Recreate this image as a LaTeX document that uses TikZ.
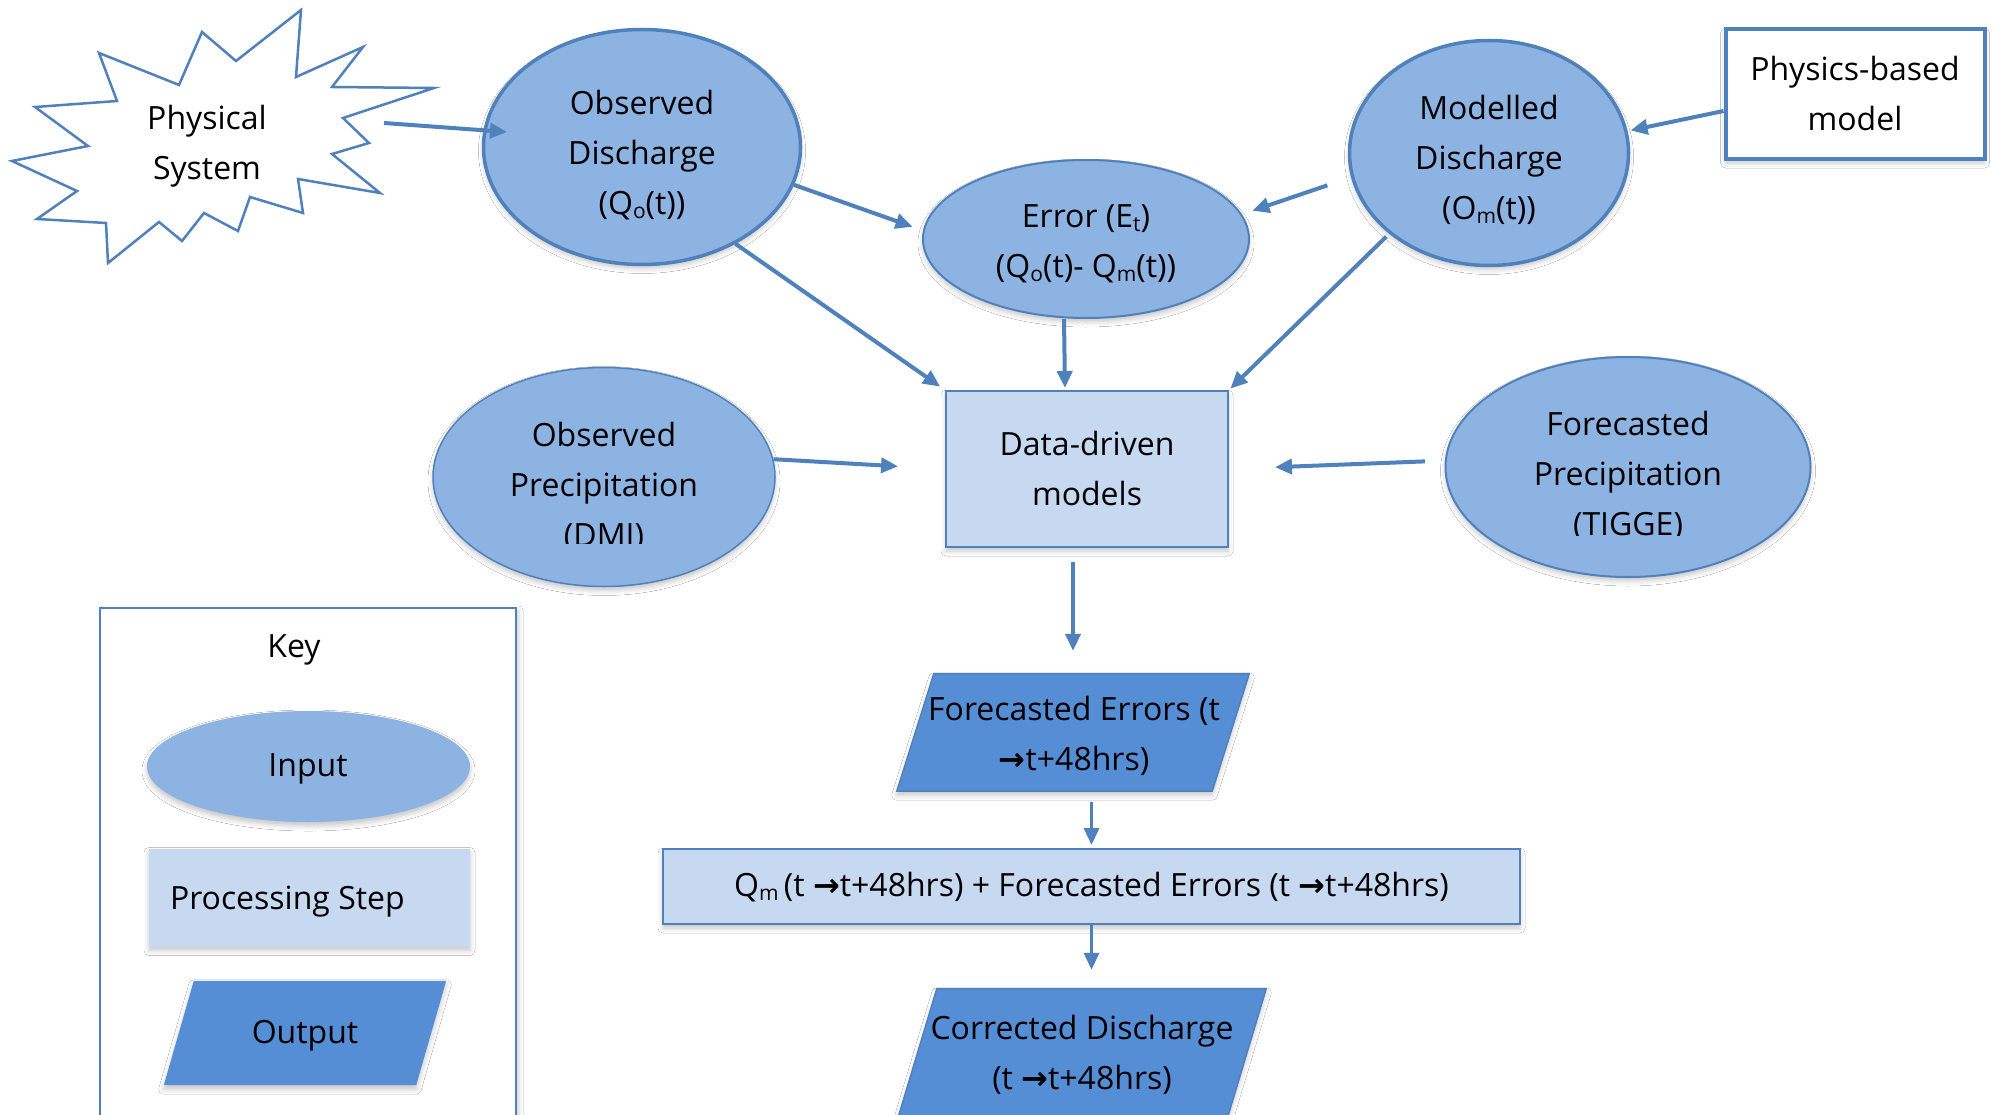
\documentclass[tikz,border=0pt]{standalone}
\usepackage{fontspec}
\usepackage{graphicx}
\setmainfont{Open Sans}
\newfontfamily\arrowfont{DejaVu Sans}
\usetikzlibrary{arrows.meta,calc,shapes.geometric,shadows.blur}

\definecolor{edge}{HTML}{4F81BD}
\definecolor{infill}{HTML}{8DB3E2}
\definecolor{procfill}{HTML}{C6D9F1}
\definecolor{outfill}{HTML}{558ED5}

% small lowered index letters (Q_o, E_t, Q_m ...)
\newcommand\lowidx[1]{\raisebox{-0.12em}{\fontsize{21pt}{21pt}\selectfont #1}}
% heavy right arrow used in the time ranges
\newcommand\rarr{{\arrowfont\bfseries →}}

\begin{document}
\begin{tikzpicture}[x=1pt,y=-1pt,
  every node/.style={font=\fontsize{32pt}{50pt}\selectfont, align=center, inner sep=0pt, text=black},
  softshadow/.style={blur shadow={shadow xshift=0pt, shadow yshift=-4pt, shadow blur radius=5pt, shadow opacity=22}},
  inputnode/.style={ellipse, fill=infill, draw=edge, softshadow},
  procnode/.style={rectangle, fill=procfill, draw=edge, line width=2pt, softshadow},
  outshape/.style={fill=outfill, draw=edge, line width=1.5pt, softshadow},
  flow/.style={draw=edge, line width=4pt, -{Triangle[length=17pt,width=15pt]}},
]
\useasboundingbox (0,0) rectangle (1993,1115);
\fill[white] (0,0) rectangle (1993,1115);
\clip (0,0) rectangle (1993,1115);

% ---------- physical system (starburst) ----------
\draw[edge, line width=2.5pt, fill=white, line join=miter]
  (301,10) -- (296,77) -- (363,47) -- (332,87) -- (434,88) -- (343,118) --
  (369,143) -- (332,154) -- (380,193) -- (298,179) -- (303,213) -- (250,197) --
  (238,231) -- (204,213) -- (182,241) -- (159,222) -- (108,263) -- (106,223) --
  (37,219) -- (77,191) -- (12,161) -- (88,146) -- (35,107) -- (117,101) --
  (99,53) -- (179,85) -- (202,32) -- (236,61) -- cycle;
\node (psys) at (207,146) {Physical\\System};
\coordinate (starout) at (384,123);

% ---------- inputs ----------
\node[inputnode, line width=3.5pt, minimum width=317pt, minimum height=235pt] (obsdis) at (642,147) {};
\node (obsdistext) at ([yshift=-8pt]obsdis.center) {Observed\\Discharge\\(Q\lowidx{o}(t))};

\node[inputnode, line width=2pt, minimum width=326pt, minimum height=158pt] (err) at (1086,239) {};
\node (errtext) at ([yshift=-5pt]err.center) {Error (E\lowidx{t})\\(Q\lowidx{o}(t)- Q\lowidx{m}(t))};

\node[inputnode, line width=3.5pt, minimum width=279pt, minimum height=225pt] (moddis) at (1489,153) {};
\node (moddistext) at ([yshift=-7pt]moddis.center) {Modelled\\Discharge\\(O\lowidx{m}(t))};

\node[rectangle, fill=white, draw=edge, line width=4pt, minimum width=259pt, minimum height=130pt, softshadow] (phys) at (1855,94)
  {Physics-based\\model};

\node[inputnode, line width=1.5pt, minimum width=342pt, minimum height=219pt] (obspr) at (604,477) {};
\node[inputnode, line width=2pt, minimum width=365pt, minimum height=220pt] (forepr) at (1628,467) {};
\begin{scope}
  \clip (420,340) rectangle (790,543);
  \node (obsprtext) at ([yshift=-10pt]obspr.center) {Observed\\Precipitation\\(DMI)};
\end{scope}
\begin{scope}
  \clip (1440,340) rectangle (1815,535);
  \node (foreprtext) at ([yshift=-9pt]forepr.center) {Forecasted\\Precipitation\\(TIGGE)};
\end{scope}

% ---------- processing and outputs ----------
\node[procnode, minimum width=282pt, minimum height=156pt] (ddm) at (1087,469) {};
\node (ddmtext) at ([yshift=1pt]ddm.center) {Data-driven\\models};

\node[minimum width=352pt, minimum height=117pt] (fe) at (1073,732.5) {};
\path[outshape] ([xshift=37pt]fe.north west) -- (fe.north east) -- ([xshift=-37pt]fe.south east) -- (fe.south west) -- cycle;
\node (fetext) at (1074,736) {Forecasted Errors (t\\\rarr t+48hrs)};

\node[procnode, minimum width=857pt, minimum height=75pt] (qm) at (1091.5,886.5) {};
\node (qmtext) at ([yshift=-1pt]qm.center) {Q\lowidx{m}\,(t \rarr t+48hrs) + Forecasted Errors (t \rarr t+48hrs)};

\node[minimum width=367pt, minimum height=126pt] (cd) at (1082.5,1052) {};
\path[outshape] ([xshift=38pt]cd.north west) -- (cd.north east) -- ([xshift=-44pt,yshift=-20pt]cd.south east) -- ([xshift=-6pt,yshift=-20pt]cd.south west) -- cycle;
\node (cdtext) at (1082,1055) {Corrected Discharge\\(t \rarr t+48hrs)};

% ---------- key ----------
\node[rectangle, fill=white, draw=edge, line width=2pt, minimum width=416pt, minimum height=540pt,
      blur shadow={shadow xshift=3pt, shadow yshift=-2pt, shadow blur radius=4pt, shadow opacity=18}] (key) at (308,878) {};
\node (keytitle) at (294,650) {Key};
\node[ellipse, fill=infill, minimum width=323pt, minimum height=111pt, softshadow] (keyin) at (308.5,766.5) {};
\node (keyintext) at (308,769) {Input};
\node[rectangle, fill=procfill, minimum width=321pt, minimum height=98pt, softshadow] (keyproc) at (309.5,897.5) {};
\node[anchor=west] (keyproctext) at ([xshift=21pt,yshift=-4pt]keyproc.west) {Processing Step};
\node[minimum width=282pt, minimum height=104pt] (keyout) at (305,1033) {};
\path[fill=outfill, softshadow] ([xshift=30pt]keyout.north west) -- (keyout.north east) -- ([xshift=-30pt]keyout.south east) -- (keyout.south west) -- cycle;
\node (keyouttext) at (305,1036) {Output};

% ---------- connectors ----------
\draw[flow] (starout) -- ($(obsdis.center)+(-135,-15)$);
\draw[flow, shorten >=11pt] (obsdis.-14) -- (err.177);
\draw[flow, shorten >=6pt] (obsdis.-46) -- (ddm.north west);
\draw[flow, shorten >=2pt] ([xshift=-22pt]err.south) -- ([xshift=-22pt]ddm.north);
\draw[flow, shorten <=25pt, shorten >=11pt] (moddis.190) -- (err.9);
\draw[flow, shorten <=4pt, shorten >=2pt] (moddis.219) -- (ddm.north east);
\draw[flow, shorten >=3pt] ([yshift=-17pt]phys.west) -- (moddis.9);
\draw[flow, shorten >=47pt] (obspr.6) -- (ddm.west);
\draw[flow, shorten <=20pt, shorten >=46pt] (forepr.178) -- (ddm.east);
\draw[flow, shorten <=14pt, shorten >=23pt] (ddm.south -| fe.north) -- (fe.north);
\draw[flow, line width=3.5pt, shorten <=11pt, shorten >=3pt] (fe.south -| qm.north) -- (qm.north);
\draw[flow, line width=3.5pt, shorten >=19pt] (qm.south) -- (qm.south |- cd.north);
\end{tikzpicture}
\end{document}
